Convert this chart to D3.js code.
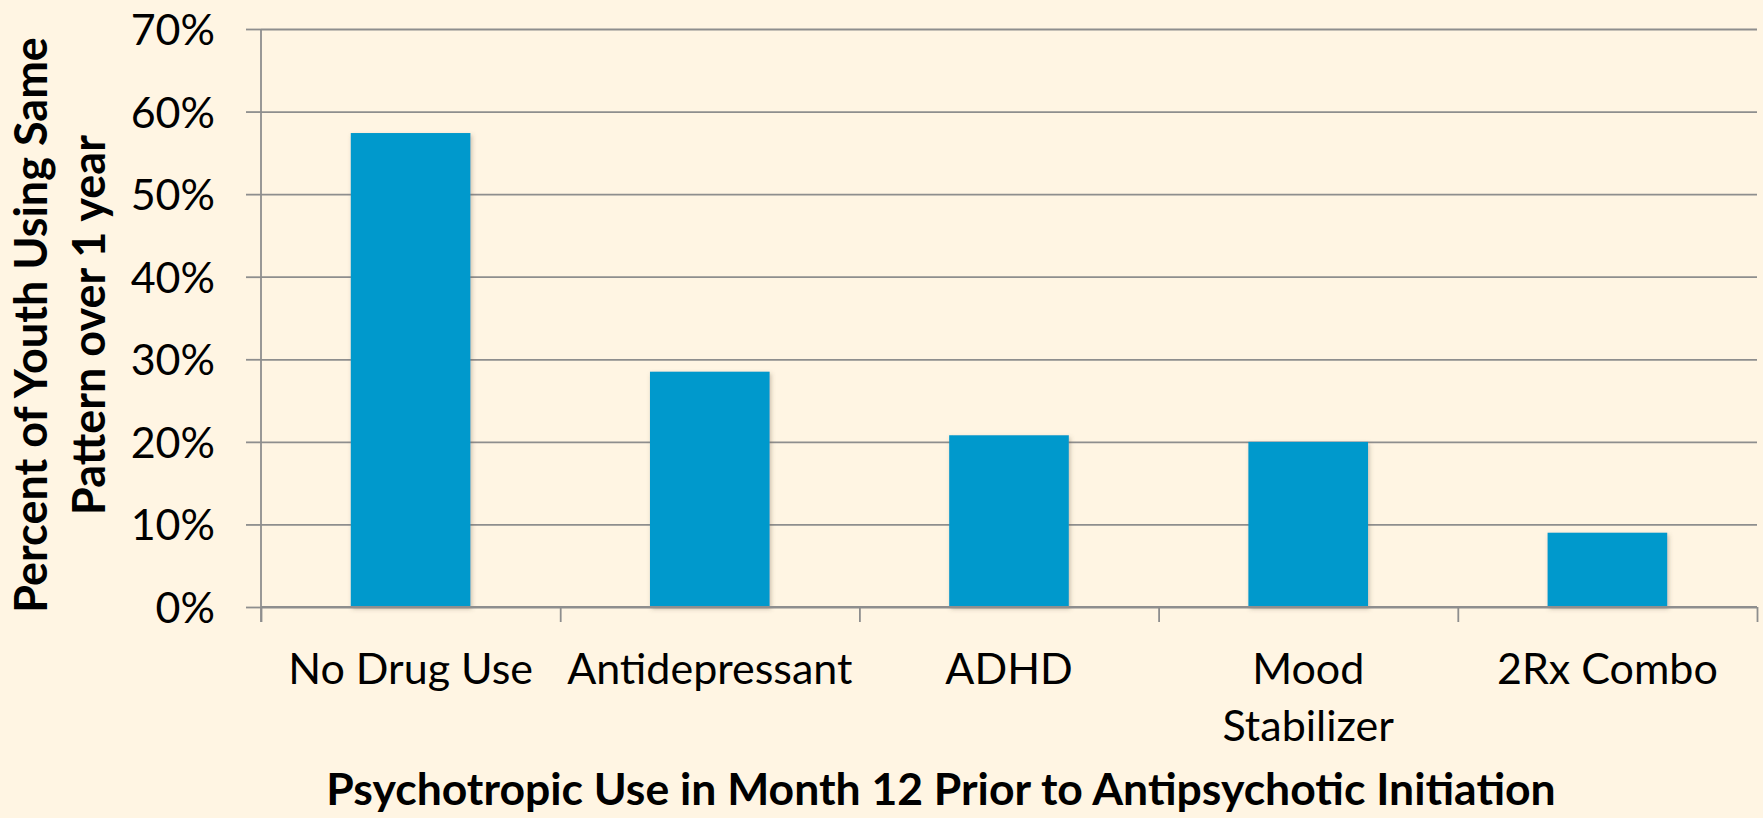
<!DOCTYPE html>
<html>
<head>
<meta charset="utf-8">
<script src="https://cdn.jsdelivr.net/npm/d3@7"></script>
<style>
    body { margin: 0; background: #fff5e3; }
    svg { display: block; font-family: Lato, "Open Sans", sans-serif; }
</style>
</head>
<body>
<div id="chart"></div>
<script>
// --------------------------------------------------
// Same pattern over 1 year, by psychotropic use

var categories = ["No Drug Use", "Antidepressant", "ADHD", "Mood Stabilizer", "2Rx Combo"];
var labelLines = [["No Drug Use"], ["Antidepressant"], ["ADHD"], ["Mood", "Stabilizer"], ["2Rx Combo"]];
var values = [57.4, 28.5, 20.8, 20.0, 9.0];
var yTicks = [0, 10, 20, 30, 40, 50, 60, 70];

var data = categories.map(function(c, i) {
    return { cat: c, value: values[i], lines: labelLines[i] };
});

var margin = { left: 261, right: 6, top: 29, bottom: 211 };
var width = 1763 - margin.left - margin.right;
var height = 818 - margin.top - margin.bottom;

var svg = d3.select("#chart")
    .append("svg")
    .attr("width", 1763)
    .attr("height", 818);

svg.append("rect")
    .attr("width", 1763)
    .attr("height", 818)
    .attr("fill", "#fff5e3");

// soft shadow under the bars
var defs = svg.append("defs");
defs.append("filter")
    .attr("id", "shadow")
    .attr("x", "-10%").attr("y", "-10%")
    .attr("width", "130%").attr("height", "130%")
    .append("feDropShadow")
    .attr("dx", 1.5)
    .attr("dy", 2)
    .attr("stdDeviation", 2)
    .attr("flood-color", "#6b5a40")
    .attr("flood-opacity", 0.35);

var g = svg.append("g")
    .attr("transform", "translate(" + margin.left + ", " + margin.top + ")");

// x, band for the bars
var x = d3.scaleBand()
    .domain(categories)
    .range([0, width])
    .paddingInner(0.6)
    .paddingOuter(0.3);

// x boundaries, for the tick marks between categories
var xEdge = d3.scaleLinear()
    .domain([0, categories.length])
    .range([0, width]);

var y = d3.scaleLinear()
    .domain([0, 70])
    .range([height, 0]);

// gridlines
var grid = g.append("g")
    .attr("class", "grid")
    .call(d3.axisLeft(y).tickValues(yTicks).tickSize(-width).tickFormat(""));
grid.select(".domain").remove();
grid.selectAll("line")
    .attr("stroke", "#8e8e8e")
    .attr("stroke-width", 1.8);

// y axis
var yAxis = g.append("g")
    .attr("class", "y-axis")
    .call(d3.axisLeft(y)
        .tickValues(yTicks)
        .tickSize(15)
        .tickPadding(31)
        .tickFormat(function(d) { return d + "%"; }))
    .attr("font-family", null)
    .attr("font-size", null);
yAxis.select(".domain")
    .attr("d", "M0,0V" + (height + 15))
    .attr("stroke", "#8e8e8e")
    .attr("stroke-width", 1.8);
yAxis.selectAll("line")
    .attr("stroke", "#8e8e8e")
    .attr("stroke-width", 1.8);
yAxis.selectAll("text")
    .attr("font-size", "43px")
    .attr("fill", "#000")
    .attr("dy", "0.36em");

// bars
g.selectAll("rect.bar")
    .data(data)
    .enter()
    .append("rect")
    .attr("class", "bar")
    .attr("x", function(d) { return x(d.cat); })
    .attr("y", function(d) { return y(d.value); })
    .attr("width", x.bandwidth())
    .attr("height", function(d) { return height - y(d.value); })
    .attr("fill", "#0099cc")
    .attr("filter", "url(#shadow)");

// x axis, ticks at category edges
var xAxis = g.append("g")
    .attr("class", "x-axis")
    .attr("transform", "translate(0, " + height + ")")
    .call(d3.axisBottom(xEdge)
        .tickValues(d3.range(categories.length + 1))
        .tickSize(15)
        .tickFormat(""));
xAxis.select(".domain")
    .attr("d", "M0,0H" + width)
    .attr("stroke", "#8e8e8e")
    .attr("stroke-width", 1.8);
xAxis.selectAll("line")
    .attr("stroke", "#8e8e8e")
    .attr("stroke-width", 1.8);

// category labels
var labels = g.selectAll("text.cat")
    .data(data)
    .enter()
    .append("text")
    .attr("class", "cat")
    .attr("x", function(d) { return x(d.cat) + x.bandwidth() / 2; })
    .attr("y", height + 77)
    .attr("text-anchor", "middle")
    .attr("font-size", "43px")
    .attr("fill", "#000");
labels.selectAll("tspan")
    .data(function(d) { return d.lines.map(function(l) { return { line: l, x: x(d.cat) + x.bandwidth() / 2 }; }); })
    .enter()
    .append("tspan")
    .attr("x", function(d) { return d.x; })
    .attr("dy", function(d, i) { return i === 0 ? 0 : 57; })
    .text(function(d) { return d.line; });

// x label
g.append("text")
    .attr("class", "x axis-label")
    .attr("x", 680)
    .attr("y", height + 198)
    .attr("font-size", "44.5px")
    .attr("font-weight", "bold")
    .attr("text-anchor", "middle")
    .text("Psychotropic Use in Month 12 Prior to Antipsychotic Initiation");

// y label, two lines
var yLab = g.append("text")
    .attr("class", "y axis-label")
    .attr("transform", "translate(" + (47 - margin.left) + ", " + (325 - margin.top) + ") rotate(-90)")
    .attr("font-size", "45px")
    .attr("font-weight", "bold")
    .attr("text-anchor", "middle");
yLab.append("tspan")
    .attr("x", 0)
    .attr("y", 0)
    .text("Percent of Youth Using Same");
yLab.append("tspan")
    .attr("x", 0)
    .attr("y", 58)
    .text("Pattern over 1 year");
</script>
</body>
</html>
